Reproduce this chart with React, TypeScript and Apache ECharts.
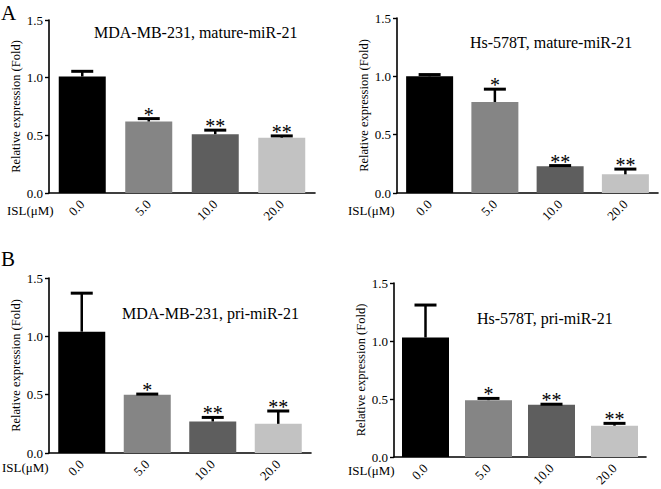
import React, { useEffect, useRef } from 'react';
import * as echarts from 'echarts';

const categories = ['0.0', '5.0', '10.0', '20.0'];
const significance = ['', '*', '**', '**'];
const barColors = ['#000000', '#858585', '#5e5e5e', '#c2c2c2'];

const titleMdaMature = 'MDA-MB-231, mature-miR-21';
const meanMdaMature = [1.01, 0.62, 0.51, 0.48];
const errMdaMature = [0.045, 0.025, 0.035, 0.015];

const titleHsMature = 'Hs-578T, mature-miR-21';
const meanHsMature = [1.0, 0.78, 0.23, 0.16];
const errHsMature = [0.015, 0.11, 0.005, 0.045];

const titleMdaPri = 'MDA-MB-231, pri-miR-21';
const meanMdaPri = [1.04, 0.5, 0.27, 0.25];
const errMdaPri = [0.33, 0.005, 0.035, 0.11];

const titleHsPri = 'Hs-578T, pri-miR-21';
const meanHsPri = [1.03, 0.49, 0.45, 0.27];
const errHsPri = [0.28, 0.015, 0.005, 0.02];

const yAxisName = 'Relative expression (Fold)';
const xAxisName = 'ISL(μM)';
const panelLetters = ['A', 'B'];

const FAMILY = 'Liberation Serif';

const panels = [
  { title: titleMdaMature, mean: meanMdaMature, err: errMdaMature,
    grid: { left: 49, top: 20, width: 266, height: 173 }, titleXY: [94, 33], islXY: [7, 212] },
  { title: titleHsMature, mean: meanHsMature, err: errHsMature,
    grid: { left: 397, top: 18, width: 261, height: 175 }, titleXY: [470, 43], islXY: [348, 212] },
  { title: titleMdaPri, mean: meanMdaPri, err: errMdaPri,
    grid: { left: 49, top: 278, width: 262, height: 175 }, titleXY: [122, 314], islXY: [2, 469] },
  { title: titleHsPri, mean: meanHsPri, err: errHsPri,
    grid: { left: 394, top: 283, width: 252, height: 174 }, titleXY: [477, 319], islXY: [348, 472] },
];

export default function App() {
  const ref = useRef<HTMLDivElement>(null);
  useEffect(() => {
    if (!ref.current) return;
    const chart = echarts.init(ref.current, undefined, { renderer: 'svg' });

    const grids: any[] = [];
    const xAxes: any[] = [];
    const yAxes: any[] = [];
    const series: any[] = [];
    const graphics: any[] = [];

    panels.forEach((p, gi) => {
      grids.push({ ...p.grid, containLabel: false });
      xAxes.push({
        type: 'category',
        gridIndex: gi,
        data: categories,
        axisLine: { lineStyle: { color: '#000', width: 1.6 } },
        axisTick: { alignWithLabel: true, length: 4, lineStyle: { color: '#000', width: 1.4 } },
        axisLabel: { rotate: 45, margin: 9, fontSize: 13, color: '#000', fontFamily: FAMILY },
      });
      yAxes.push({
        type: 'value',
        gridIndex: gi,
        min: 0,
        max: 1.5,
        interval: 0.5,
        name: yAxisName,
        nameLocation: 'middle',
        nameGap: 22,
        nameRotate: 90,
        nameTextStyle: { fontSize: 12.5, color: '#000', fontFamily: FAMILY },
        splitLine: { show: false },
        axisLine: { show: true, lineStyle: { color: '#000', width: 1.6 } },
        axisTick: { show: true, length: 4, lineStyle: { color: '#000', width: 1.4 } },
        axisLabel: {
          margin: 6, fontSize: 13, color: '#000', fontFamily: FAMILY,
          formatter: (v: number) => v.toFixed(1),
        },
      });
      series.push({
        type: 'bar',
        xAxisIndex: gi,
        yAxisIndex: gi,
        barWidth: 47,
        data: p.mean.map((v, i) => ({ value: v, itemStyle: { color: barColors[i] } })),
      });
      const errData = p.mean.map((m, i) => [i, m, m + p.err[i]]);
      series.push({
        type: 'custom',
        xAxisIndex: gi,
        yAxisIndex: gi,
        clip: false,
        z: 5,
        data: errData,
        renderItem: (params: any, api: any) => {
          const idx = params.dataIndex;
          const x = api.value(0);
          const p0 = api.coord([x, api.value(1)]);
          const p1 = api.coord([x, api.value(2)]);
          const half = 11;
          const children: any[] = [
            { type: 'line', shape: { x1: p0[0], y1: p0[1], x2: p1[0], y2: p1[1] },
              style: { stroke: '#000', lineWidth: 2.5 } },
            { type: 'line', shape: { x1: p1[0] - half, y1: p1[1], x2: p1[0] + half, y2: p1[1] },
              style: { stroke: '#000', lineWidth: 3 } },
          ];
          const s = significance[idx];
          if (s) {
            children.push({
              type: 'text',
              x: p1[0],
              y: p1[1] + 6,
              style: {
                text: s, fill: '#000', fontSize: 20, fontFamily: FAMILY,
                align: 'center', verticalAlign: 'bottom',
              },
            });
          }
          return { type: 'group', children };
        },
      });
      graphics.push({
        type: 'text', left: p.titleXY[0], top: p.titleXY[1] - 9,
        style: { text: p.title, fill: '#000', fontSize: 16, fontFamily: FAMILY },
      });
      graphics.push({
        type: 'text', left: p.islXY[0], top: p.islXY[1] - 8,
        style: { text: xAxisName, fill: '#000', fontSize: 13, fontFamily: FAMILY },
      });
    });

    graphics.push({ type: 'text', left: 1, top: 2, style: { text: panelLetters[0], fill: '#000', fontSize: 21, fontFamily: FAMILY } });
    graphics.push({ type: 'text', left: 1, top: 248, style: { text: panelLetters[1], fill: '#000', fontSize: 21, fontFamily: FAMILY } });

    chart.setOption({
      animation: false,
      backgroundColor: '#fff',
      textStyle: { fontFamily: FAMILY },
      grid: grids,
      xAxis: xAxes,
      yAxis: yAxes,
      series,
      graphic: graphics,
    });
    return () => chart.dispose();
  }, []);

  return <div ref={ref} style={{ position: 'absolute', left: 0, top: 0, width: 661, height: 489 }} />;
}
